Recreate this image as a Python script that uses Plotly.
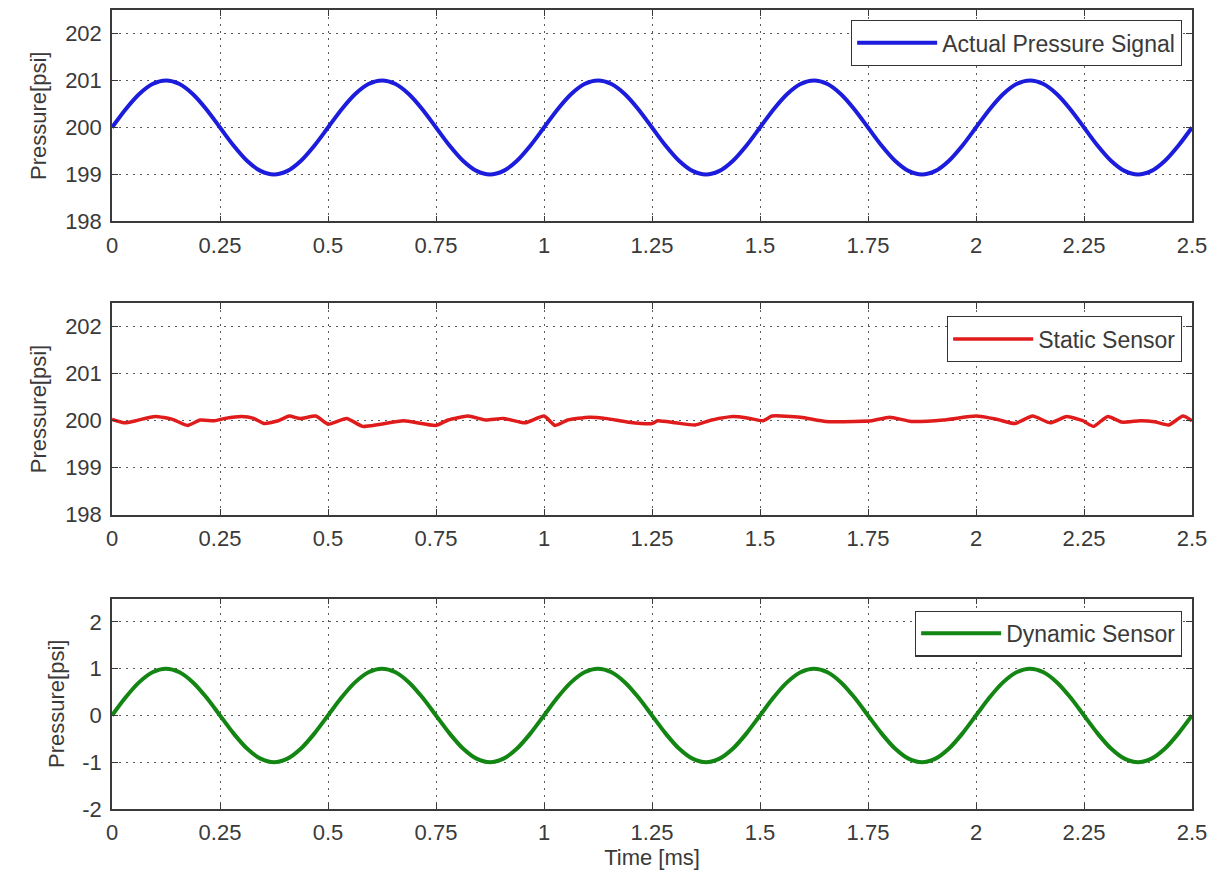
import plotly.graph_objects as go

# ---------------- data ----------------
time_sine = [0.0, 0.03125, 0.0625, 0.09375, 0.125, 0.15625, 0.1875, 0.21875,
             0.25, 0.28125, 0.3125, 0.34375, 0.375, 0.40625, 0.4375, 0.46875,
             0.5, 0.53125, 0.5625, 0.59375, 0.625, 0.65625, 0.6875, 0.71875,
             0.75, 0.78125, 0.8125, 0.84375, 0.875, 0.90625, 0.9375, 0.96875,
             1.0, 1.03125, 1.0625, 1.09375, 1.125, 1.15625, 1.1875, 1.21875,
             1.25, 1.28125, 1.3125, 1.34375, 1.375, 1.40625, 1.4375, 1.46875,
             1.5, 1.53125, 1.5625, 1.59375, 1.625, 1.65625, 1.6875, 1.71875,
             1.75, 1.78125, 1.8125, 1.84375, 1.875, 1.90625, 1.9375, 1.96875,
             2.0, 2.03125, 2.0625, 2.09375, 2.125, 2.15625, 2.1875, 2.21875,
             2.25, 2.28125, 2.3125, 2.34375, 2.375, 2.40625, 2.4375, 2.46875,
             2.5]

actual_pressure = [
    200.0, 200.383, 200.707, 200.924, 201.0, 200.924, 200.707, 200.383,
    200.0, 199.617, 199.293, 199.076, 199.0, 199.076, 199.293, 199.617,
    200.0, 200.383, 200.707, 200.924, 201.0, 200.924, 200.707, 200.383,
    200.0, 199.617, 199.293, 199.076, 199.0, 199.076, 199.293, 199.617,
    200.0, 200.383, 200.707, 200.924, 201.0, 200.924, 200.707, 200.383,
    200.0, 199.617, 199.293, 199.076, 199.0, 199.076, 199.293, 199.617,
    200.0, 200.383, 200.707, 200.924, 201.0, 200.924, 200.707, 200.383,
    200.0, 199.617, 199.293, 199.076, 199.0, 199.076, 199.293, 199.617,
    200.0, 200.383, 200.707, 200.924, 201.0, 200.924, 200.707, 200.383,
    200.0, 199.617, 199.293, 199.076, 199.0, 199.076, 199.293, 199.617,
    200.0]

dynamic_sensor = [
    0.0, 0.383, 0.707, 0.924, 1.0, 0.924, 0.707, 0.383,
    0.0, -0.383, -0.707, -0.924, -1.0, -0.924, -0.707, -0.383,
    0.0, 0.383, 0.707, 0.924, 1.0, 0.924, 0.707, 0.383,
    0.0, -0.383, -0.707, -0.924, -1.0, -0.924, -0.707, -0.383,
    0.0, 0.383, 0.707, 0.924, 1.0, 0.924, 0.707, 0.383,
    0.0, -0.383, -0.707, -0.924, -1.0, -0.924, -0.707, -0.383,
    0.0, 0.383, 0.707, 0.924, 1.0, 0.924, 0.707, 0.383,
    0.0, -0.383, -0.707, -0.924, -1.0, -0.924, -0.707, -0.383,
    0.0, 0.383, 0.707, 0.924, 1.0, 0.924, 0.707, 0.383,
    0.0, -0.383, -0.707, -0.924, -1.0, -0.924, -0.707, -0.383,
    0.0]

time_static = [0.0, 0.03, 0.055, 0.10, 0.14, 0.175, 0.204, 0.237, 0.262, 0.30,
               0.328, 0.352, 0.385, 0.41, 0.435, 0.472, 0.50, 0.543, 0.58, 0.617,
               0.675, 0.75, 0.778, 0.824, 0.865, 0.906, 0.956, 1.0, 1.026, 1.055,
               1.105, 1.146, 1.196, 1.25, 1.263, 1.305, 1.35, 1.388, 1.437, 1.47,
               1.507, 1.528, 1.594, 1.652, 1.718, 1.759, 1.80, 1.85, 1.925, 2.0,
               2.048, 2.09, 2.131, 2.172, 2.21, 2.247, 2.272, 2.305, 2.338, 2.38,
               2.413, 2.446, 2.479, 2.5]

static_sensor = [200.03, 199.955, 200.0, 200.09, 200.03, 199.9, 200.015, 200.0, 200.05, 200.09,
                 200.05, 199.94, 200.0, 200.1, 200.045, 200.1, 199.925, 200.05, 199.88, 199.92,
                 200.0, 199.9, 200.015, 200.1, 200.015, 200.05, 199.955, 200.1, 199.9, 200.015,
                 200.075, 200.045, 199.97, 199.94, 200.0, 199.955, 199.91, 200.015, 200.09, 200.06,
                 200.0, 200.1, 200.075, 199.985, 199.985, 200.0, 200.075, 199.985, 200.015, 200.1,
                 200.03, 199.94, 200.1, 199.955, 200.09, 200.0, 199.88, 200.09, 199.97, 200.0,
                 199.98, 199.91, 200.1, 200.0]

x_ticks = [0, 0.25, 0.5, 0.75, 1, 1.25, 1.5, 1.75, 2, 2.25, 2.5]
x_tick_text = ["0", "0.25", "0.5", "0.75", "1", "1.25", "1.5", "1.75", "2", "2.25", "2.5"]
y_ticks_abs = [198, 199, 200, 201, 202]
y_tick_text_abs = ["198", "199", "200", "201", "202"]
y_ticks_dyn = [-2, -1, 0, 1, 2]
y_tick_text_dyn = ["-2", "-1", "0", "1", "2"]

# ---------------- figure ----------------
FONT = "Liberation Sans, Arial, sans-serif"
TXT = "#3a3a3a"
AX = "#3a3a3a"

fig = go.Figure()
fig.add_trace(go.Scatter(x=time_sine, y=actual_pressure, mode="lines",
                         line=dict(color="#1c1cdc", width=4, shape="spline", smoothing=0.8),
                         name="Actual Pressure Signal", xaxis="x", yaxis="y", legend="legend"))
fig.add_trace(go.Scatter(x=time_static, y=static_sensor, mode="lines",
                         line=dict(color="#e01b1b", width=3.5, shape="spline", smoothing=0.5),
                         name="Static Sensor", xaxis="x2", yaxis="y2", legend="legend2"))
fig.add_trace(go.Scatter(x=time_sine, y=dynamic_sensor, mode="lines",
                         line=dict(color="#128512", width=4, shape="spline", smoothing=0.8),
                         name="Dynamic Sensor", xaxis="x3", yaxis="y3", legend="legend3"))

common_axis = dict(
    showline=True, linecolor=AX, linewidth=1.5, mirror="ticks",
    ticks="inside", ticklen=6, tickcolor=AX, tickwidth=1.2,
    showgrid=True, gridcolor="#5a5a5a", gridwidth=1, griddash="2px,5px",
    zeroline=False, tickfont=dict(family=FONT, size=22, color=TXT),
)

def xax(anchor, title=None):
    d = dict(common_axis, range=[0, 2.5], tickmode="array", tickvals=x_ticks,
             ticktext=x_tick_text, anchor=anchor, domain=[0, 1], ticklabelstandoff=3)
    if title:
        d["title"] = dict(text=title, font=dict(family=FONT, size=22, color=TXT), standoff=3)
    return d

def yax(anchor, rng, ticks, texts, dom):
    return dict(common_axis, range=rng, tickmode="array", tickvals=ticks, ticktext=texts,
                anchor=anchor, domain=dom, ticklabelstandoff=4,
                title=dict(text="Pressure[psi]", font=dict(family=FONT, size=22, color=TXT),
                           standoff=12))

legend_common = dict(bgcolor="white", bordercolor="#333333", borderwidth=1.2,
                     font=dict(family=FONT, size=23, color=TXT),
                     xanchor="right", yanchor="top", itemwidth=80,
                     tracegroupgap=0)

fig.update_layout(
    width=1223, height=872,
    margin=dict(l=112, r=31, t=8, b=63),
    paper_bgcolor="white", plot_bgcolor="white",
    font=dict(family=FONT, color=TXT),
    showlegend=True,
    xaxis=xax("y"),
    yaxis=yax("x", [198, 202.5], y_ticks_abs, y_tick_text_abs, [0.7353, 1.0]),
    xaxis2=xax("y2"),
    yaxis2=yax("x2", [198, 202.5], y_ticks_abs, y_tick_text_abs, [0.3683, 0.633]),
    xaxis3=xax("y3", "Time [ms]"),
    yaxis3=yax("x3", [-2, 2.5], y_ticks_dyn, y_tick_text_dyn, [0.0, 0.2634]),
    legend=dict(legend_common, x=0.9907, y=0.9875),
    legend2=dict(legend_common, x=0.9907, y=0.6167),
    legend3=dict(legend_common, x=0.9907, y=0.2484),
)

fig.write_html("out.html")
